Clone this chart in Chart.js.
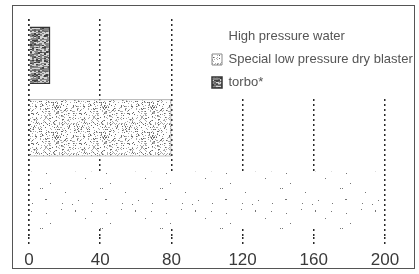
<!DOCTYPE html>
<html>
<head>
<meta charset="utf-8">
<script src="https://cdn.jsdelivr.net/npm/chart.js@4.4.1/dist/chart.umd.min.js"></script>
<style>
  html, body { margin: 0; padding: 0; background: #fff; }
  #wrap { position: relative; width: 419px; height: 274px; }
  #frame {
    position: absolute; left: 12px; top: 5px; width: 403px; height: 264px;
    box-sizing: border-box; border: 1.5px solid #555; pointer-events: none;
  }
</style>
</head>
<body>
<div id="wrap">
  <canvas id="chart"></canvas>
  <div id="frame"></div>
</div>
<script>
// categories, top to bottom
const rows = ['torbo*', 'Special low pressure dry blaster', 'High pressure water'];
const values = [12, 80, 197];
// legend lists the series in the opposite order
const series = ['High pressure water', 'Special low pressure dry blaster', 'torbo*'];
const xTicks = [0, 40, 80, 120, 160, 200];

// --- scanned-looking fills ---
let seed = 12345;
function rnd() {
  seed = (seed * 16807) % 2147483647;
  return seed / 2147483647;
}

function makePattern(w, h, paint) {
  const c = document.createElement('canvas');
  c.width = w; c.height = h;
  const g = c.getContext('2d');
  paint(g, w, h);
  return g.createPattern(c, 'repeat');
}

// torbo: mid grey speckle with light horizontal streaks
const torboFill = makePattern(26, 40, (g, w, h) => {
  g.fillStyle = '#858585';
  g.fillRect(0, 0, w, h);
  for (let y = 0; y < h; y++) {
    for (let x = 0; x < w; x += 2) {
      const r = rnd();
      if (r < 0.14) g.fillStyle = '#404040';
      else if (r < 0.3) g.fillStyle = '#666';
      else if (r > 0.68) g.fillStyle = '#d4d4d4';
      else continue;
      g.fillRect(x, y, r > 0.9 ? 3 : 2, 1);
    }
  }
});

// special blaster: fine light stipple
const blasterFill = makePattern(48, 30, (g, w, h) => {
  g.fillStyle = '#fff';
  g.fillRect(0, 0, w, h);
  for (let y = 0; y < h; y++) {
    for (let x = 0; x < w; x++) {
      const r = rnd();
      if (r < 0.07) g.fillStyle = '#666';
      else if (r < 0.23) g.fillStyle = '#aaa';
      else continue;
      g.fillRect(x, y, 1, 1);
    }
  }
});

// high pressure water: sparse dots on white
const waterFill = makePattern(60, 40, (g, w, h) => {
  g.fillStyle = '#fff';
  g.fillRect(0, 0, w, h);
  g.fillStyle = '#777';
  for (let i = 0; i < 16; i++) {
    g.fillRect(Math.floor(rnd() * w), Math.floor(rnd() * h), 1, 1);
  }
});

const fills = {
  'High pressure water': { bg: waterFill, border: '#fff', width: 0 },
  'Special low pressure dry blaster': { bg: blasterFill, border: '#888', width: 1 },
  'torbo*': { bg: torboFill, border: '#333', width: 1.5 }
};

const datasets = series.map(name => ({
  label: name,
  data: rows.map((r, i) => (r === name ? values[i] : null)),
  backgroundColor: fills[name].bg,
  borderColor: fills[name].border,
  borderWidth: fills[name].width,
  grouped: false,
  categoryPercentage: 1,
  barPercentage: 0.79
}));

// move the legend to the top right and blank the grid behind it
const legendBox = {
  id: 'legendBox',
  afterLayout(chart) {
    const lg = chart.legend;
    const area = chart.chartArea;
    lg.left = 202;
    lg.top = area.top + 1;
    lg.right = lg.left + lg.width;
    lg.bottom = area.bottom;
  },
  beforeDatasetsDraw(chart) {
    const { ctx, chartArea } = chart;
    const mid = chart.getDatasetMeta(1).data[1];
    const bottom = mid.y - mid.height / 2 - 3;
    ctx.save();
    ctx.fillStyle = '#fff';
    ctx.fillRect(chart.legend.left + 2, chartArea.top - 2, chart.width - chart.legend.left, bottom - chartArea.top + 2);
    ctx.restore();
    chart.legend.draw();
  }
};

const gridColor = '#2a2a2a';
const ctx = document.getElementById('chart').getContext('2d');

new Chart(ctx, {
  type: 'bar',
  data: { labels: rows, datasets: datasets },
  options: {
    indexAxis: 'y',
    responsive: true,
    maintainAspectRatio: false,
    animation: false,
    devicePixelRatio: 1,
    layout: { padding: { left: 29, right: 34, top: 19, bottom: -3 } },
    scales: {
      x: {
        type: 'linear',
        min: 0,
        max: 200,
        afterBuildTicks: (scale) => { scale.ticks = xTicks.map(v => ({ value: v })); },
        grid: {
          color: gridColor,
          lineWidth: 1.5,
          tickLength: 8,
          tickColor: gridColor,
          tickWidth: 1.5,
          tickBorderDash: [2, 3]
        },
        border: { display: false, dash: [2, 3] },
        ticks: {
          padding: 6,
          color: '#3a3a3a',
          font: { family: '"Liberation Sans", Arial, sans-serif', size: 17 }
        }
      },
      // the zero line runs on top of the bars
      x0: {
        type: 'linear',
        position: 'bottom',
        min: 0,
        max: 200,
        afterBuildTicks: (scale) => { scale.ticks = [{ value: 0 }]; },
        grid: { z: 1, color: gridColor, lineWidth: 1.5, drawTicks: false },
        border: { display: false, dash: [2, 3] },
        ticks: { display: false }
      },
      y: {
        grid: { display: false, drawTicks: false },
        ticks: { display: false },
        border: { display: false }
      }
    },
    plugins: {
      legend: {
        position: 'chartArea',
        align: 'start',
        labels: {
          boxWidth: 10,
          boxHeight: 11,
          padding: 10,
          color: '#555',
          font: { family: '"Liberation Sans", Arial, sans-serif', size: 13 }
        }
      },
      tooltip: { enabled: false }
    }
  },
  plugins: [legendBox]
});
</script>
</body>
</html>
